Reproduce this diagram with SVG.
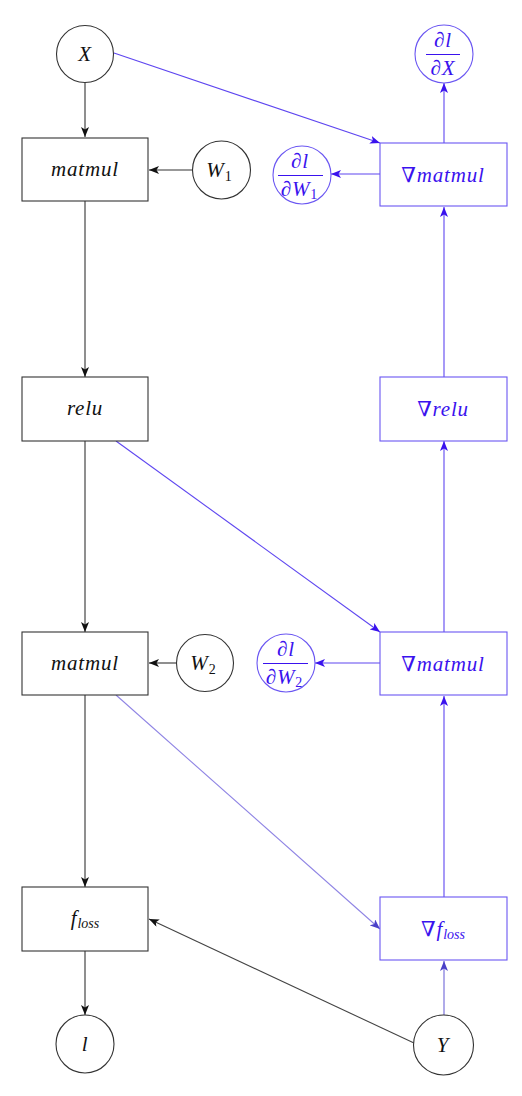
<svg xmlns="http://www.w3.org/2000/svg" width="522" height="1096" viewBox="0 0 522 1096">
<style>
.bg{fill:#fff}
.n{fill:#fff;stroke:#333;stroke-width:1.1}
.nb{fill:#fff;stroke:#6a56f2;stroke-width:1.1}
.t{font-family:"Liberation Serif","DejaVu Serif",serif;font-style:italic;font-size:21px;fill:#111;text-anchor:middle;letter-spacing:0.8px}
.tb{font-family:"Liberation Serif","DejaVu Serif",serif;font-style:italic;font-size:21px;fill:#3a12ee;text-anchor:middle;letter-spacing:0.8px}
.up{font-style:normal}
.sub{font-size:14px;letter-spacing:0}
.fr{stroke:#3a12ee;stroke-width:1.2}
.ck{stroke:#333;stroke-width:1.1;fill:none}
.cg{stroke:#444;stroke-width:1.1;fill:none}
.cb{stroke:#5e46f0;stroke-width:1.1;fill:none}
.cl{stroke:#8f84e4;stroke-width:1.1;fill:none}
.cm{stroke:#6f66d8;stroke-width:1.1;fill:none}
</style>
<defs>
<marker id="ak" markerUnits="userSpaceOnUse" markerWidth="10" markerHeight="8" refX="10" refY="4" orient="auto"><path d="M0,0 L10,4 L0,8 L2.5,4 Z" fill="#111"/></marker>
<marker id="ab" markerUnits="userSpaceOnUse" markerWidth="10" markerHeight="8" refX="10" refY="4" orient="auto"><path d="M0,0 L10,4 L0,8 L2.5,4 Z" fill="#3a12ee"/></marker>
<marker id="am" markerUnits="userSpaceOnUse" markerWidth="10" markerHeight="8" refX="10" refY="4" orient="auto"><path d="M0,0 L10,4 L0,8 L2.5,4 Z" fill="#4a40c8"/></marker>
</defs>
<rect class="bg" x="0" y="0" width="522" height="1096"/>

<g id="connectors">
<line class="ck" x1="85" y1="82" x2="85" y2="137" marker-end="url(#ak)"/>
<line class="ck" x1="192" y1="170" x2="149" y2="170" marker-end="url(#ak)"/>
<line class="ck" x1="85" y1="201" x2="85" y2="377" marker-end="url(#ak)"/>
<line class="ck" x1="85" y1="441" x2="85" y2="632" marker-end="url(#ak)"/>
<line class="ck" x1="176" y1="663" x2="149" y2="663" marker-end="url(#ak)"/>
<line class="ck" x1="85" y1="695" x2="85" y2="887" marker-end="url(#ak)"/>
<line class="ck" x1="85" y1="951" x2="85" y2="1015" marker-end="url(#ak)"/>
<line class="cg" x1="414" y1="1043" x2="149" y2="919" marker-end="url(#ak)"/>
<line class="cb" x1="114" y1="53" x2="380" y2="143" marker-end="url(#ab)"/>
<line class="cb" x1="444" y1="143" x2="444" y2="83" marker-end="url(#ab)"/>
<line class="cb" x1="380" y1="174" x2="331" y2="174" marker-end="url(#ab)"/>
<line class="cb" x1="444" y1="377" x2="444" y2="207" marker-end="url(#ab)"/>
<line class="cb" x1="444" y1="632" x2="444" y2="441" marker-end="url(#ab)"/>
<line class="cb" x1="116" y1="441" x2="380" y2="632" marker-end="url(#ab)"/>
<line class="cb" x1="380" y1="663" x2="315" y2="663" marker-end="url(#ab)"/>
<line class="cb" x1="444" y1="897" x2="444" y2="696" marker-end="url(#ab)"/>
<line class="cl" x1="116" y1="695" x2="380" y2="929" marker-end="url(#am)"/>
<line class="cm" x1="444" y1="1015" x2="444" y2="961" marker-end="url(#am)"/>
</g>

<g id="X"><circle class="n" cx="85" cy="54" r="28.5"/><text class="t" x="85" y="61">X</text></g>
<g id="matmul1"><rect class="n" x="22" y="138" width="126" height="63"/><text class="t" x="85" y="176">matmul</text></g>
<g id="W1"><circle class="n" cx="221.5" cy="170" r="29"/><text class="t" x="219" y="177">W<tspan class="up sub" dy="4">1</tspan></text></g>
<g id="relu"><rect class="n" x="22" y="377" width="126" height="64"/><text class="t" x="85" y="415">relu</text></g>
<g id="matmul2"><rect class="n" x="22" y="632" width="126" height="63"/><text class="t" x="85" y="670">matmul</text></g>
<g id="W2"><circle class="n" cx="205" cy="663" r="28.5"/><text class="t" x="203" y="670">W<tspan class="up sub" dy="4">2</tspan></text></g>
<g id="floss"><rect class="n" x="22" y="887" width="126" height="64"/><text class="t" x="85" y="925">f<tspan class="sub" dy="3">loss</tspan></text></g>
<g id="l"><circle class="n" cx="85" cy="1044" r="29"/><text class="t" x="85" y="1051">l</text></g>
<g id="Y"><circle class="n" cx="443.5" cy="1045" r="30"/><text class="t" x="443" y="1052">Y</text></g>

<g id="dX"><circle class="nb" cx="444" cy="54" r="29"/><text class="tb" x="443" y="47">∂l</text><line class="fr" x1="426" y1="54.5" x2="460" y2="54.5"/><text class="tb" x="443" y="75">∂X</text></g>
<g id="gmatmul1"><rect class="nb" x="380" y="143" width="127" height="63"/><text class="tb" x="443" y="182">∇matmul</text></g>
<g id="dW1"><circle class="nb" cx="302" cy="175" r="29"/><text class="tb" x="300" y="168">∂l</text><line class="fr" x1="278" y1="175.5" x2="323" y2="175.5"/><text class="tb" x="299" y="196">∂W<tspan class="up sub" dy="3">1</tspan></text></g>
<g id="grelu"><rect class="nb" x="380" y="377" width="127" height="64"/><text class="tb" x="443" y="416">∇relu</text></g>
<g id="gmatmul2"><rect class="nb" x="380" y="632" width="127" height="63"/><text class="tb" x="443" y="671">∇matmul</text></g>
<g id="dW2"><circle class="nb" cx="286" cy="663" r="29"/><text class="tb" x="286" y="656">∂l</text><line class="fr" x1="263" y1="663.5" x2="308" y2="663.5"/><text class="tb" x="284" y="684">∂W<tspan class="up sub" dy="3">2</tspan></text></g>
<g id="gfloss"><rect class="nb" x="380" y="897" width="127" height="63"/><text class="tb" x="443" y="936">∇f<tspan class="sub" dy="3">loss</tspan></text></g>
</svg>
